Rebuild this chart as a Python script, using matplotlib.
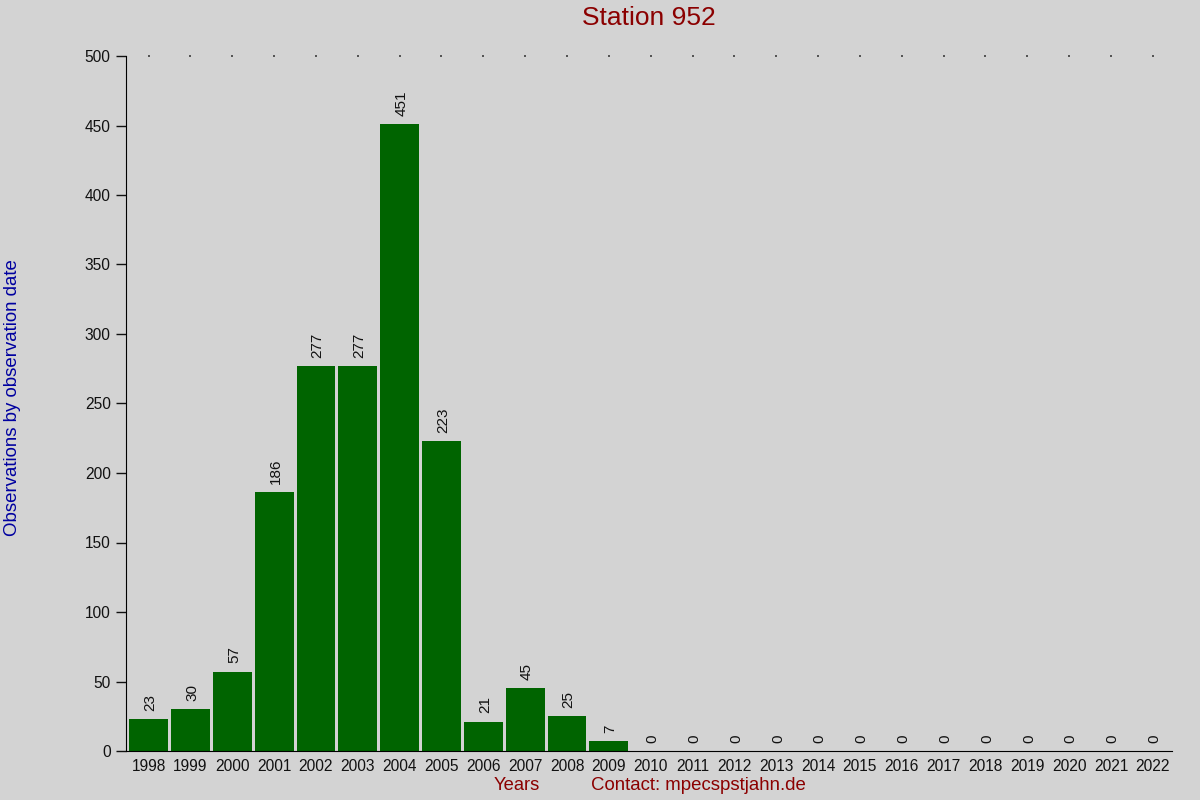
import matplotlib
matplotlib.use("Agg")
import matplotlib.pyplot as plt

years = [str(y) for y in range(1998, 2023)]
counts = [23, 30, 57, 186, 277, 277, 451, 223, 21, 45, 25, 7,
          0, 0, 0, 0, 0, 0, 0, 0, 0, 0, 0, 0, 0]
yticks = [0, 50, 100, 150, 200, 250, 300, 350, 400, 450, 500]

plt.rcParams['font.family'] = ['Liberation Sans', 'DejaVu Sans']
bg = '#d3d3d3'
fig = plt.figure(figsize=(12, 8), dpi=100, facecolor=bg)
ax = fig.add_axes([0.105, 0.06125, 0.8717, 0.86875], facecolor=bg)

x = list(range(len(years)))
ax.bar(x, counts, width=0.93, color='#006400')
for xi, c in zip(x, counts):
    ax.text(xi + 0.04, c + 6, str(c), rotation=90, ha='center', va='bottom',
            fontsize=11, color='#111111')
ax.scatter(x, [500] * len(x), s=1.2, color='#555555', marker='s', lw=0, clip_on=False)

ax.set_xlim(-0.54, len(years) - 0.54)
ax.set_ylim(0, 500)
ax.set_yticks(yticks)
ax.set_xticks(x)
ax.set_xticklabels(years)
ax.tick_params(axis='x', length=0, pad=6, labelsize=11.2, colors='#111111')
ax.tick_params(axis='y', length=7, width=1, direction='out', pad=4, labelsize=11.2, colors='#111111')
for s in ['top', 'right']:
    ax.spines[s].set_visible(False)
ax.spines['left'].set_color('black')
ax.spines['bottom'].set_color('black')

fig.text(0.541, 0.978, 'Station 952', ha='center', va='center', fontsize=19, color='#8b0000')
fig.text(0.0105, 0.503, 'Observations by observation date', rotation=90, ha='center', va='center',
         fontsize=13.4, color='#0000a0')
fig.text(0.431, 0.018, 'Years', ha='center', va='center', fontsize=13.2, color='#8b0000')
fig.text(0.4925, 0.018, 'Contact: mpecspstjahn.de', ha='left', va='center', fontsize=13.4, color='#8b0000')

fig.savefig('out.png', dpi=100, facecolor=bg)
